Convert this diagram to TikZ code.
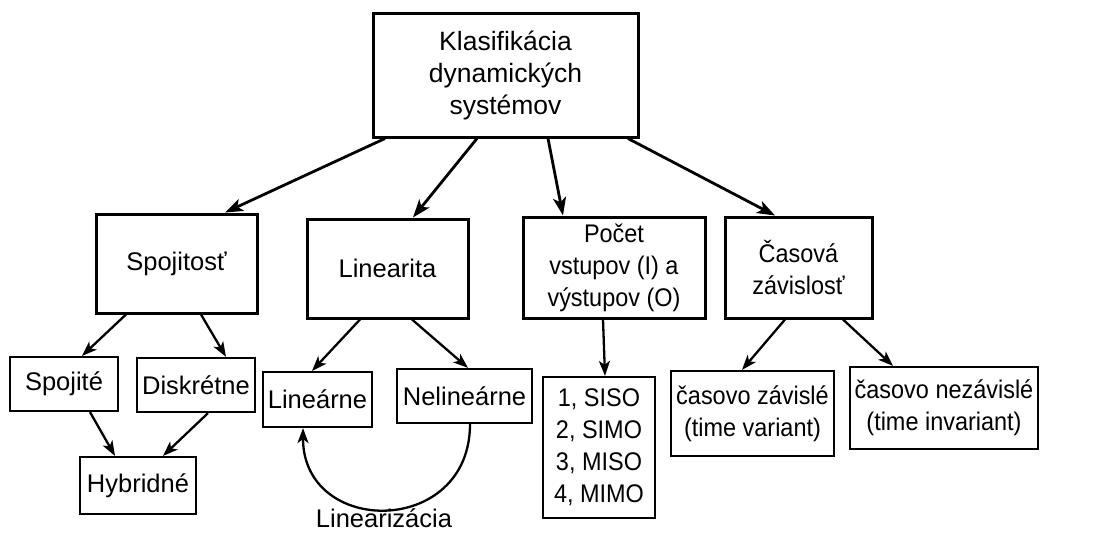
\documentclass[tikz,border=0pt]{standalone}
\usepackage{fontspec}
\setmainfont{Liberation Sans}
\newfontfamily\narrowfont[FakeStretch=0.92]{Liberation Sans}
\usetikzlibrary{arrows.meta}
\begin{document}
\begin{tikzpicture}[x=1pt,y=-1pt,
  base/.style={draw,rectangle,inner sep=0pt,align=center,
    font=\fontsize{25.5}{32}\selectfont},
  bigbox/.style={base,line width=3pt},
  smallbox/.style={base,line width=2.2pt},
  narrow/.style={font=\fontsize{25.5}{32}\narrowfont},
  bigarrow/.style={line width=2.8pt,-{Stealth[length=18pt,width=13pt,inset=4.5pt]}},
  smallarrow/.style={line width=2.3pt,-{Stealth[length=15pt,width=11pt,inset=4pt]}}]
\useasboundingbox (0,0) rectangle (1101,533);
% level 1
\node[bigbox,minimum width=265pt,minimum height=124pt,font=\fontsize{26.5}{32}\selectfont] (top) at (505.5,75) {Klasifikácia\\dynamických\\systémov};
% level 2
\node[bigbox,minimum width=161pt,minimum height=99pt] (spoj) at (176.5,263.5) {Spojitosť};
\node[bigbox,minimum width=161pt,minimum height=99pt] (lin) at (387.5,268.5) {Linearita};
\node[bigbox,narrow,minimum width=182pt,minimum height=101pt] (poc) at (614,267.5) {Počet\\vstupov (I) a\\výstupov (O)};
\node[bigbox,narrow,minimum width=147pt,minimum height=101pt] (cas) at (798.5,267.5) {Časová\\závislosť};
% level 3
\node[smallbox,minimum width=108pt,minimum height=54pt] (spojite) at (64,384) {Spojité};
\node[smallbox,minimum width=118pt,minimum height=54pt] (disk) at (196,385) {Diskrétne};
\node[smallbox,minimum width=116pt,minimum height=57pt] (hyb) at (138,485.5) {Hybridné};
\node[smallbox,minimum width=109pt,minimum height=55pt] (linr) at (317.5,399.5) {Lineárne};
\node[smallbox,minimum width=135pt,minimum height=54pt] (nelin) at (464.5,396) {Nelineárne};
\node[smallbox,narrow,minimum width=112pt,minimum height=141pt] (list) at (599,447.5) {1, SISO\\2, SIMO\\3, MISO\\4, MIMO};
\node[smallbox,narrow,minimum width=163pt,minimum height=85pt] (zav) at (752.5,413.5) {časovo závislé\\(time variant)};
\node[smallbox,narrow,minimum width=188pt,minimum height=82pt] (nezav) at (944,408) {časovo nezávislé\\(time invariant)};
\node[font=\fontsize{25.5}{32}\selectfont] (linz) at (384,518.5) {Linearizácia};
% arrows level 1 -> 2
\draw[bigarrow] ([xshift=-120.5pt]top.south) -- ([xshift=48.5pt]spoj.north);
\draw[bigarrow] ([xshift=-28.5pt]top.south) -- ([xshift=25.5pt]lin.north);
\draw[bigarrow] ([xshift=42.5pt]top.south) -- ([xshift=-51pt]poc.north);
\draw[bigarrow] ([xshift=122.5pt]top.south) -- ([xshift=-23.5pt]cas.north);
% arrows level 2 -> 3
\draw[smallarrow] ([xshift=-50.5pt]spoj.south) -- ([xshift=18pt]spojite.north);
\draw[smallarrow] ([xshift=24.5pt]spoj.south) -- ([xshift=30pt]disk.north);
\draw[smallarrow] ([xshift=26pt]spojite.south) -- ([xshift=-23pt]hyb.north);
\draw[smallarrow] ([xshift=12pt]disk.south) -- ([xshift=25pt]hyb.north);
\draw[smallarrow] ([xshift=-27.5pt]lin.south) -- ([xshift=-5.5pt]linr.north);
\draw[smallarrow] ([xshift=24.5pt]lin.south) -- ([xshift=3.5pt]nelin.north);
\draw[smallarrow] ([xshift=-11pt]poc.south) -- ([xshift=6pt]list.north);
\draw[smallarrow] ([xshift=-13.5pt]cas.south) -- ([xshift=-10.5pt]zav.north);
\draw[smallarrow] ([xshift=44.5pt]cas.south) -- ([xshift=-51pt]nezav.north);
% linearization loop
\draw[smallarrow] ([xshift=5.5pt]nelin.south) .. controls +(0,113) and +(0,109) .. ([xshift=-14.5pt]linr.south);
\end{tikzpicture}
\end{document}
